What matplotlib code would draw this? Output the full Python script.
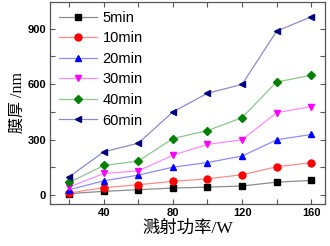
import matplotlib
matplotlib.use("Agg")
import matplotlib.pyplot as plt
from matplotlib.ticker import MultipleLocator
from matplotlib.colors import to_rgba

power = [20, 40, 60, 80, 100, 120, 140, 160]
t5 = [8, 20, 29, 38, 43, 49, 70, 79]
t10 = [11, 40, 56, 74, 88, 110, 153, 175]
t20 = [29, 77, 108, 151, 176, 211, 299, 328]
t30 = [43, 117, 131, 216, 274, 299, 446, 479]
t40 = [68, 160, 184, 306, 349, 419, 612, 648]
t60 = [99, 234, 281, 450, 551, 599, 887, 965]

series = [
    ("5min", t5, "black", "s", 4.3),
    ("10min", t10, "red", "o", 5),
    ("20min", t20, "blue", "^", 5),
    ("30min", t30, "magenta", "v", 5),
    ("40min", t40, "green", "D", 4.3),
    ("60min", t60, "navy", "<", 5),
]


def light(c, a=0.45):
    r, g, b, _ = to_rgba(c)
    return (1 - a * (1 - r), 1 - a * (1 - g), 1 - a * (1 - b))


fig = plt.figure(figsize=(3.3, 2.46), dpi=100)
ax = fig.add_axes([0.152, 0.171, 0.833, 0.821])

for name, vals, col, mk, ms in series:
    ax.plot(power, vals, color=light(col), lw=0.9, marker=mk, ms=ms,
            markerfacecolor=col, markeredgecolor=col, label=name)

ax.legend(loc="upper left", frameon=False,
          prop={"family": "Liberation Sans", "size": 10.5},
          handlelength=2.6, labelspacing=0.45, handletextpad=0.4,
          borderaxespad=0.2, bbox_to_anchor=(0.0, 1.0))

ax.set_xlim(9, 168)
ax.set_ylim(-48, 1045)
ax.xaxis.set_major_locator(MultipleLocator(40))
ax.xaxis.set_minor_locator(MultipleLocator(20))
ax.yaxis.set_major_locator(MultipleLocator(300))
ax.yaxis.set_minor_locator(MultipleLocator(150))
ax.tick_params(which="both", direction="in", top=True, right=True,
               color="#555555", length=3.5, width=0.8, pad=3)
for lab in ax.get_xticklabels() + ax.get_yticklabels():
    lab.set_fontfamily("Liberation Sans")
    lab.set_fontweight("bold")
    lab.set_fontsize(8)
for sp in ax.spines.values():
    sp.set_color("#555555")
    sp.set_linewidth(0.9)

cjk = ["Liberation Serif", "Noto Sans CJK SC"]
ax.set_xlabel("溅射功率/W", family=cjk, fontsize=12.5, labelpad=2)
ax.set_ylabel("膜厚 /nm", family=cjk, fontsize=11.5, labelpad=1)

fig.savefig("out.png", dpi=100)
